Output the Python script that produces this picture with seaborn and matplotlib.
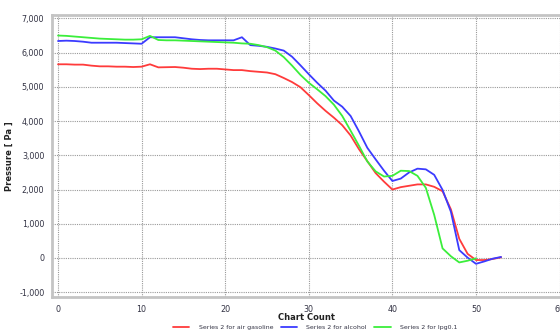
import numpy as np
import pandas as pd
import matplotlib
matplotlib.use("Agg")
import matplotlib.pyplot as plt
from matplotlib.ticker import MultipleLocator, FuncFormatter
import seaborn as sns

series_names = ["Series 2 for air gasoline", "Series 2 for alcohol", "Series 2 for lpg0.1"]

red_vals = [5660, 5660, 5650, 5650, 5620, 5600, 5600, 5590, 5590, 5580,
            5590, 5660, 5570, 5575, 5580, 5560, 5530, 5520, 5530, 5530,
            5510, 5490, 5490, 5460, 5440, 5420, 5370, 5260, 5140, 4990,
            4760, 4520, 4300, 4100, 3880, 3580, 3180, 2830, 2480, 2230,
            2000, 2070, 2110, 2150, 2150, 2080, 1950, 1420, 560, 120,
            -60, -60, -30, 20]
blue_vals = [6340, 6350, 6340, 6320, 6290, 6290, 6290, 6290, 6280, 6270,
             6260, 6450, 6450, 6450, 6450, 6420, 6390, 6370, 6360, 6360,
             6360, 6360, 6450, 6220, 6200, 6170, 6120, 6060, 5880, 5630,
             5370, 5120, 4890, 4600, 4420, 4150, 3700, 3220, 2880, 2550,
             2250, 2320, 2500, 2610, 2590, 2430, 1990, 1350, 230, 10,
             -170, -100, -20, 30]
green_vals = [6500, 6490, 6470, 6450, 6430, 6410, 6400, 6390, 6380, 6380,
              6390, 6490, 6370, 6360, 6360, 6350, 6340, 6330, 6320, 6310,
              6300, 6290, 6270, 6260, 6220, 6160, 6060, 5870, 5620, 5350,
              5120, 4930, 4730, 4480, 4150, 3720, 3280, 2820, 2530, 2380,
              2400, 2550, 2540, 2400, 2050, 1260, 280, 50, -130, -80,
              -10]

frames = []
for name, vals in zip(series_names, [red_vals, blue_vals, green_vals]):
    frames.append(pd.DataFrame({"count": np.arange(len(vals)), "pressure": vals, "series": name}))
df = pd.concat(frames, ignore_index=True)

sns.set_style("white")
plt.rcParams['font.family'] = ['DejaVu Sans']

fig = plt.figure(figsize=(5.6, 3.33), dpi=100)
ax = fig.add_axes([52/560, 36/333, 508/560, 282/333])

palette = {series_names[0]: "#ff3b3b", series_names[1]: "#3b3bff", series_names[2]: "#3bee3b"}
sns.lineplot(data=df, x="count", y="pressure", hue="series", palette=palette,
             linewidth=1.3, ax=ax, legend=True)

ax.set_xlim(-0.72, 60.05)
ax.set_ylim(-1140, 7100)
ax.xaxis.set_major_locator(MultipleLocator(10))
ax.xaxis.set_minor_locator(MultipleLocator(2))
ax.yaxis.set_major_locator(MultipleLocator(1000))
ax.yaxis.set_minor_locator(MultipleLocator(200))
ax.yaxis.set_major_formatter(FuncFormatter(lambda v, p: f"{int(v):,}"))

ax.grid(True, which="major", color="#999999", linestyle=(0, (1, 1)), linewidth=0.8)
for side in ["left", "bottom", "top"]:
    ax.spines[side].set_color("#c4c4c4")
    ax.spines[side].set_linewidth(2.0)
ax.spines["right"].set_visible(False)

ax.tick_params(axis="both", which="major", direction="out", length=4, width=0.8,
               color="#555555", labelsize=5.8, labelcolor="#333344", pad=1.5)
ax.tick_params(axis="both", which="minor", direction="out", length=2, width=0.8, color="#555555")

ax.set_xlabel("Chart Count", fontsize=6, fontweight="bold", color="#222222")
ax.xaxis.set_label_coords(0.5, -0.058)
ax.set_ylabel("Pressure [ Pa ]", fontsize=6, fontweight="bold", color="#222222", labelpad=4)

handles, labels = ax.get_legend_handles_labels()
ax.legend_.remove()
fig.legend(handles, labels, loc="center", bbox_to_anchor=(0.563, 0.016), ncol=3,
           frameon=False, fontsize=4.5, handlelength=2.6, columnspacing=1.2,
           handletextpad=1.5, labelcolor="#333344")

fig.savefig("out.png", dpi=100)
